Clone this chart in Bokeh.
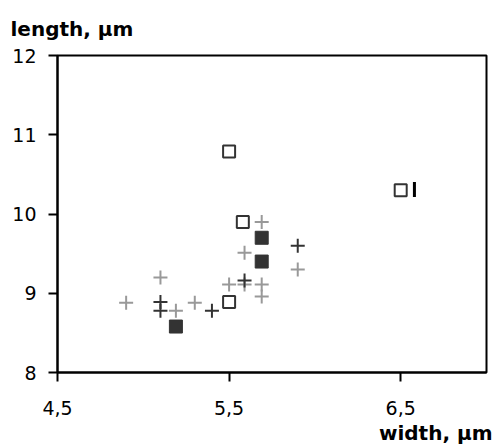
from bokeh.plotting import figure
from bokeh.models import FixedTicker, Title
from bokeh.embed import file_html
from bokeh.resources import INLINE
import math

# data
gray_cross_x = [5.69, 5.59, 5.90, 5.10, 5.50, 5.59, 5.69, 5.69, 4.90, 5.19, 5.30]
gray_cross_y = [9.90, 9.51, 9.30, 9.20, 9.11, 9.11, 9.11, 8.96, 8.88, 8.78, 8.88]
dark_cross_x = [5.90, 5.59, 5.10, 5.10, 5.40]
dark_cross_y = [9.60, 9.16, 8.89, 8.78, 8.78]
open_sq_x = [5.58, 5.50, 5.50, 6.50]
open_sq_y = [9.90, 8.89, 10.79, 10.30]
filled_sq_x = [5.69, 5.69, 5.19]
filled_sq_y = [9.70, 9.40, 8.58]
bar_x = [6.58]
bar_y = [10.31]

x_ticks = [4.5, 5.5, 6.5]
x_tick_labels = ["4,5", "5,5", "6,5"]
y_ticks = [8, 9, 10, 11, 12]

FONT = "DejaVu Sans"
W, H = 496, 448
p = figure(width=W, height=H, x_range=(4.5, 7.0), y_range=(8, 12),
           output_backend="svg", toolbar_location=None,
           min_border_left=57, min_border_right=10, min_border_top=55,
           min_border_bottom=H - 372)
p.background_fill_color = "white"
p.border_fill_color = "white"
p.xgrid.visible = False
p.ygrid.visible = False
p.outline_line_color = "black"
p.outline_line_width = 2

p.xaxis.ticker = FixedTicker(ticks=x_ticks)
p.xaxis.major_label_overrides = {t: l for t, l in zip(x_ticks, x_tick_labels)}
p.yaxis.ticker = FixedTicker(ticks=y_ticks)
for ax in (p.xaxis, p.yaxis):
    ax.axis_line_color = "black"
    ax.axis_line_width = 2
    ax.major_tick_line_color = "black"
    ax.major_tick_line_width = 2
    ax.major_tick_out = 9
    ax.major_tick_in = 0
    ax.minor_tick_line_color = None
    ax.major_label_text_font = FONT
    ax.major_label_text_font_size = "19px"
    ax.major_label_text_color = "black"
p.xaxis.major_label_standoff = 19
p.yaxis.major_label_standoff = 12

p.scatter(gray_cross_x, gray_cross_y, marker="cross", size=14, line_width=2, line_color="#999999")
p.scatter(dark_cross_x, dark_cross_y, marker="cross", size=14, line_width=2, line_color="#333333")
p.scatter(open_sq_x, open_sq_y, marker="square", size=12, line_width=2, line_color="#333333", fill_color="white")
p.scatter(filled_sq_x, filled_sq_y, marker="square", size=13, line_width=1, line_color="#333333", fill_color="#333333")
p.scatter(bar_x, bar_y, marker="dash", size=15, angle=math.pi / 2, line_width=3, line_color="black")

p.title = Title(text="length, µm", align="left", offset=-47, standoff=29,
                vertical_align="bottom",
                text_font=FONT, text_font_size="20px", text_font_style="bold",
                text_color="black")
p.add_layout(Title(text="width, µm", align="right", offset=-6, standoff=3,
                   text_font=FONT, text_font_size="20px", text_font_style="bold",
                   text_color="black"), "below")

open("out.html", "w").write(file_html(p, INLINE))
